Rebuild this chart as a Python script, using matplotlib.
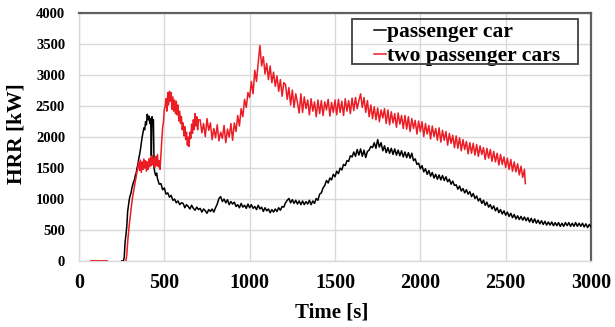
import matplotlib
matplotlib.use('Agg')
import matplotlib.pyplot as plt
from matplotlib.patches import Rectangle
import numpy as np

# ---------------- data ----------------
# passenger car (black)
black_t_early = [250, 260, 265, 270, 275, 280, 285, 290, 295, 300, 305, 310, 315, 320, 325,
                 330, 335, 340, 345, 350, 355, 360, 365, 370, 375, 380, 385, 390, 395, 400,
                 405, 410, 415, 420, 424, 428, 432, 436, 440, 445, 450, 455, 460, 470, 480,
                 490, 500, 510, 520, 530, 540, 550, 560, 570, 580, 590, 600]
black_v_early = [0, 0, 60, 300, 420, 560, 800, 900, 1000, 1060, 1100, 1180, 1230, 1280, 1310,
                 1380, 1420, 1500, 1560, 1650, 1720, 1800, 1900, 2000, 2080, 2150, 2120, 2250, 2200, 2370,
                 2280, 2340, 2220, 2300, 1700, 2330, 2250, 2280, 1500, 1420, 1380, 1420, 1330, 1240, 1250,
                 1150, 1180, 1080, 1100, 1030, 1060, 980, 1000, 940, 970, 910, 940]
black_t_late = list(range(610, 3001, 10))
black_v_late = [
    930, 860, 910, 880, 840, 900, 850, 820, 870, 830,
    850, 790, 840, 810, 770, 830, 800, 840, 790, 860,
    920, 1010, 1040, 960, 1000, 940, 990, 910, 960, 920,
    950, 880, 910, 860, 930, 870, 900, 850, 920, 860,
    910, 850, 880, 830, 900, 840, 870, 800, 860, 810,
    840, 780, 830, 790, 840, 800, 860, 820, 880, 870,
    940, 980, 1010, 940, 990, 930, 980, 920, 970, 910,
    970, 910, 960, 920, 980, 910, 970, 930, 1010, 980,
    1080, 1100, 1180, 1220, 1300, 1260, 1340, 1310, 1400, 1360,
    1450, 1410, 1500, 1470, 1560, 1540, 1620, 1610, 1700, 1680,
    1760, 1690, 1800, 1710, 1810, 1690, 1790, 1670, 1770, 1790,
    1850, 1830, 1910, 1820, 1960, 1840, 1910, 1780, 1860, 1750,
    1830, 1740, 1820, 1720, 1810, 1710, 1790, 1700, 1780, 1680,
    1760, 1670, 1750, 1660, 1740, 1620, 1650, 1560, 1580, 1490,
    1540, 1440, 1490, 1400, 1460, 1370, 1430, 1340, 1400, 1320,
    1390, 1310, 1380, 1300, 1360, 1280, 1320, 1240, 1290, 1220,
    1230, 1160, 1210, 1130, 1170, 1100, 1150, 1080, 1120, 1040,
    1090, 1010, 1050, 970, 1010, 930, 980, 900, 950, 870,
    910, 840, 890, 810, 860, 780, 830, 760, 810, 740,
    790, 720, 770, 700, 750, 680, 730, 670, 720, 660,
    710, 650, 700, 630, 690, 620, 680, 610, 660, 600,
    650, 590, 640, 580, 630, 580, 630, 570, 620, 570,
    620, 560, 610, 560, 620, 570, 620, 560, 610, 560,
    620, 560, 610, 560, 610, 550, 600, 540, 590, 550]

# two passenger cars (red)
red_dash_t = [70, 165]
red_dash_v = [0, 0]
red_t_early = list(range(275, 701, 5))
red_v_early = [
    0, 100, 300, 450, 600, 720, 850, 950, 1050, 1130,
    1200, 1280, 1380, 1450, 1520, 1600, 1460, 1630, 1430, 1600,
    1480, 1650, 1500, 1620, 1450, 1600, 1480, 1650, 1520, 1680,
    1540, 1700, 1560, 1660, 1510, 1690, 1540, 1720, 1520, 1620,
    1480, 1720, 1950, 2150, 2250, 2450, 2500, 2620, 2420, 2720,
    2520, 2740, 2580, 2720, 2450, 2650, 2420, 2600, 2380, 2580,
    2360, 2520, 2260, 2420, 2220, 2330, 2120, 2230, 2020, 2170,
    1960, 2080, 1870, 2000, 1850, 2080, 1980, 2210, 2060, 2280,
    2120, 2380, 2180, 2330, 2120, 2280]
red_t_late = list(range(710, 2611, 10)) + [2615]
red_v_late = [
    2280, 2070, 2220, 2010, 2300, 2110, 2230, 1960, 2140, 1990,
    2200, 1940, 2080, 1980, 2190, 1910, 2130, 2000, 2220, 1950,
    2230, 2090, 2350, 2180, 2460, 2330, 2610, 2480, 2720, 2640,
    2900, 2700, 3080, 2900, 3200, 3480, 3150, 3300, 3020, 3190,
    2930, 3150, 2880, 3050, 2820, 2990, 2740, 2930, 2660, 2880,
    2850, 2610, 2800, 2520, 2760, 2480, 2700, 2560, 2390, 2700,
    2400, 2650, 2460, 2600, 2360, 2620, 2420, 2570, 2330, 2600,
    2380, 2590, 2350, 2570, 2440, 2610, 2340, 2560, 2400, 2600,
    2360, 2610, 2400, 2580, 2350, 2620, 2420, 2590, 2380, 2630,
    2430, 2640, 2460, 2590, 2700, 2480, 2640, 2400, 2590, 2330,
    2520, 2300, 2490, 2280, 2470, 2250, 2440, 2310, 2460, 2220,
    2440, 2200, 2410, 2230, 2380, 2160, 2390, 2210, 2350, 2140,
    2350, 2130, 2330, 2090, 2300, 2140, 2270, 2050, 2260, 2090,
    2250, 2010, 2220, 2050, 2190, 1970, 2180, 2010, 2140, 1950,
    2150, 1920, 2110, 1950, 2090, 1870, 2060, 1900, 2030, 1830,
    2020, 1820, 1990, 1780, 1960, 1800, 1930, 1730, 1910, 1740,
    1900, 1710, 1880, 1690, 1860, 1720, 1830, 1640, 1820, 1660,
    1800, 1610, 1770, 1600, 1740, 1550, 1720, 1560, 1680, 1510,
    1660, 1480, 1640, 1450, 1600, 1440, 1570, 1390, 1530, 1350,
    1480, 1250]

series_labels = ['passenger car', 'two passenger cars']
x_ticks = [0, 500, 1000, 1500, 2000, 2500, 3000]
y_ticks = [0, 500, 1000, 1500, 2000, 2500, 3000, 3500, 4000]

# ---------------- style ----------------
RED = '#ec1c24'
plt.rcParams['font.family'] = ['Liberation Serif', 'DejaVu Serif']
plt.rcParams['font.weight'] = 'bold'

W, H = 615, 327
fig = plt.figure(figsize=(W / 100, H / 100), dpi=100)
x0, x1, y0, y1 = 79, 591, 261, 13.3
ax = fig.add_axes([x0 / W, 1 - y0 / H, (x1 - x0) / W, (y0 - y1) / H])

black_t = black_t_early + black_t_late
black_v = black_v_early + black_v_late
red_t = red_t_early + red_t_late
red_v = red_v_early + red_v_late

l1, = ax.plot(black_t, black_v, color='black', lw=1.1, label=series_labels[0], zorder=3)
ax.plot(red_dash_t, red_dash_v, color=RED, lw=1.3, zorder=3)
l2, = ax.plot(red_t, red_v, color=RED, lw=1.1, label=series_labels[1], zorder=4)

ax.set_xlim(0, 3000)
ax.set_ylim(0, 4000)
ax.set_xticks(x_ticks)
ax.set_yticks(y_ticks)
ax.grid(True, color='#d9d9d9', lw=1.0)
ax.set_axisbelow(True)
ax.tick_params(length=0)
ax.tick_params(axis='x', labelsize=14.5, pad=9)
ax.tick_params(axis='y', labelsize=10.5, pad=10)
for s in ['top', 'right']:
    ax.spines[s].set_color('#606060')
    ax.spines[s].set_linewidth(1.6)
for s in ['left', 'bottom']:
    ax.spines[s].set_color('#d9d9d9')
    ax.spines[s].set_linewidth(1.0)

fig.text(17 / W, 1 - 134 / H, 'HRR [kW]', rotation=90, ha='center', va='center',
         fontsize=15.5, fontweight='bold')
fig.text(332 / W, 1 - 313 / H, 'Time [s]', ha='center', va='center',
         fontsize=15, fontweight='bold')

# legend
leg = ax.legend(handles=[l1, l2], loc='upper left',
                bbox_to_anchor=(374 / W, 1 - 22 / H), bbox_transform=fig.transFigure,
                frameon=False, borderpad=0, borderaxespad=0,
                handlelength=0.55, handletextpad=0.05, labelspacing=0.2,
                prop={'size': 15.5, 'weight': 'bold'})
fig.patches.append(Rectangle((352 / W, 1 - 64 / H), (578 - 352) / W, (64 - 19) / H,
                             transform=fig.transFigure, fill=False,
                             edgecolor='#404040', lw=1.3, zorder=10))

fig.savefig('out.png', dpi=100)
